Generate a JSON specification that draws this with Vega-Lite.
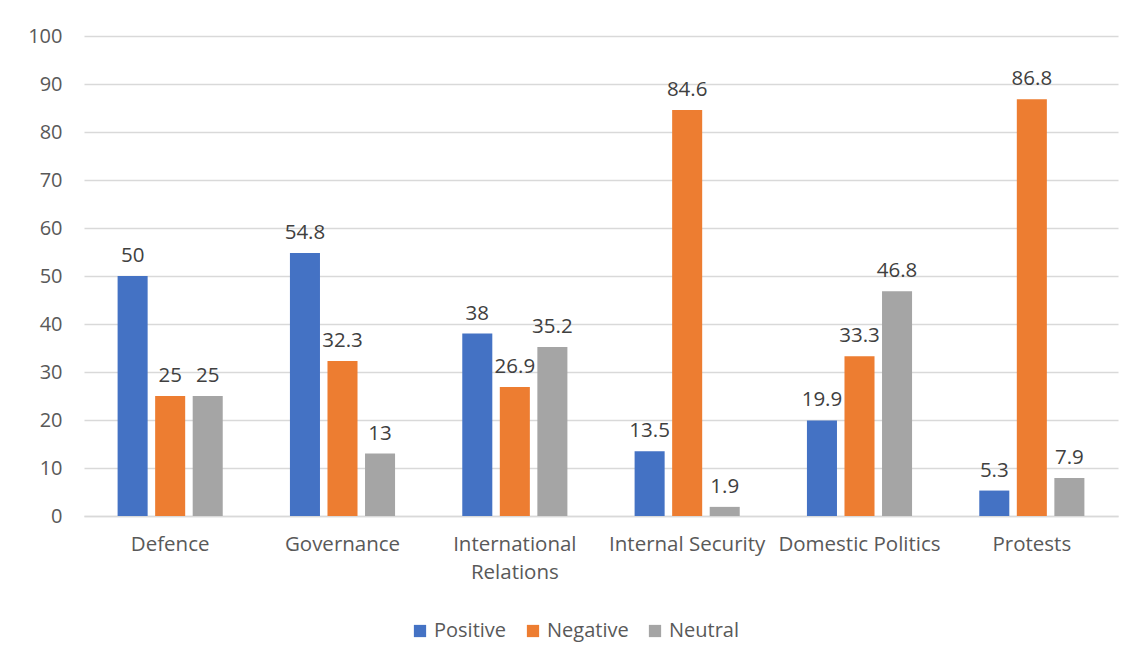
{
  "$schema": "https://vega.github.io/schema/vega-lite/v6.json",
  "autosize": {"type": "none"},
  "width": 1034,
  "height": 480,
  "padding": {"left": 84, "top": 36, "right": 27, "bottom": 148},
  "background": "white",
  "config": {
    "font": "Open Sans",
    "view": {"stroke": null}
  },
  "data": {
    "values": [
      {"category": "Defence", "sentiment": "Positive", "value": 50},
      {"category": "Defence", "sentiment": "Negative", "value": 25},
      {"category": "Defence", "sentiment": "Neutral", "value": 25},
      {"category": "Governance", "sentiment": "Positive", "value": 54.8},
      {"category": "Governance", "sentiment": "Negative", "value": 32.3},
      {"category": "Governance", "sentiment": "Neutral", "value": 13},
      {"category": "International Relations", "sentiment": "Positive", "value": 38},
      {"category": "International Relations", "sentiment": "Negative", "value": 26.9},
      {"category": "International Relations", "sentiment": "Neutral", "value": 35.2},
      {"category": "Internal Security", "sentiment": "Positive", "value": 13.5},
      {"category": "Internal Security", "sentiment": "Negative", "value": 84.6},
      {"category": "Internal Security", "sentiment": "Neutral", "value": 1.9},
      {"category": "Domestic Politics", "sentiment": "Positive", "value": 19.9},
      {"category": "Domestic Politics", "sentiment": "Negative", "value": 33.3},
      {"category": "Domestic Politics", "sentiment": "Neutral", "value": 46.8},
      {"category": "Protests", "sentiment": "Positive", "value": 5.3},
      {"category": "Protests", "sentiment": "Negative", "value": 86.8},
      {"category": "Protests", "sentiment": "Neutral", "value": 7.9}
    ]
  },
  "encoding": {
    "x": {
      "field": "category",
      "type": "nominal",
      "sort": null,
      "scale": {"paddingInner": 0.39, "paddingOuter": 0.195},
      "axis": {
        "title": null,
        "labelAngle": 0,
        "labelFontSize": 20.5,
        "labelColor": "#595959",
        "labelPadding": 18,
        "ticks": false,
        "domainColor": "#d9d9d9",
        "domainWidth": 1.5,
        "labelExpr": "datum.label == 'International Relations' ? ['International', 'Relations'] : datum.label",
        "labelLineHeight": 28
      }
    },
    "xOffset": {
      "field": "sentiment",
      "type": "nominal",
      "sort": ["Positive", "Negative", "Neutral"],
      "scale": {"paddingInner": 0.2, "paddingOuter": 0}
    },
    "y": {
      "field": "value",
      "type": "quantitative",
      "scale": {"domain": [0, 100]},
      "axis": {
        "title": null,
        "values": [0, 10, 20, 30, 40, 50, 60, 70, 80, 90, 100],
        "labelFontSize": 20,
        "labelColor": "#595959",
        "labelPadding": 22,
        "ticks": false,
        "domain": false,
        "gridColor": "#d9d9d9",
        "gridWidth": 1.5
      }
    }
  },
  "layer": [
    {
      "mark": {"type": "bar"},
      "encoding": {
        "color": {
          "field": "sentiment",
          "type": "nominal",
          "sort": ["Positive", "Negative", "Neutral"],
          "scale": {"domain": ["Positive", "Negative", "Neutral"], "range": ["#4472C4", "#ED7D31", "#A5A5A5"]},
          "legend": {
            "title": null,
            "orient": "none",
            "direction": "horizontal",
            "legendX": 326,
            "legendY": 585,
            "symbolType": "square",
            "symbolSize": 150,
            "symbolStrokeWidth": 0,
            "labelFontSize": 20,
            "labelColor": "#595959",
            "labelOffset": 4,
            "columnPadding": 16,
            "padding": 0
          }
        }
      }
    },
    {
      "mark": {"type": "text", "baseline": "bottom", "dy": -10, "fontSize": 20.5, "color": "#404040"},
      "encoding": {
        "text": {"field": "value", "type": "quantitative"},
        "detail": {"field": "sentiment"}
      }
    }
  ]
}
